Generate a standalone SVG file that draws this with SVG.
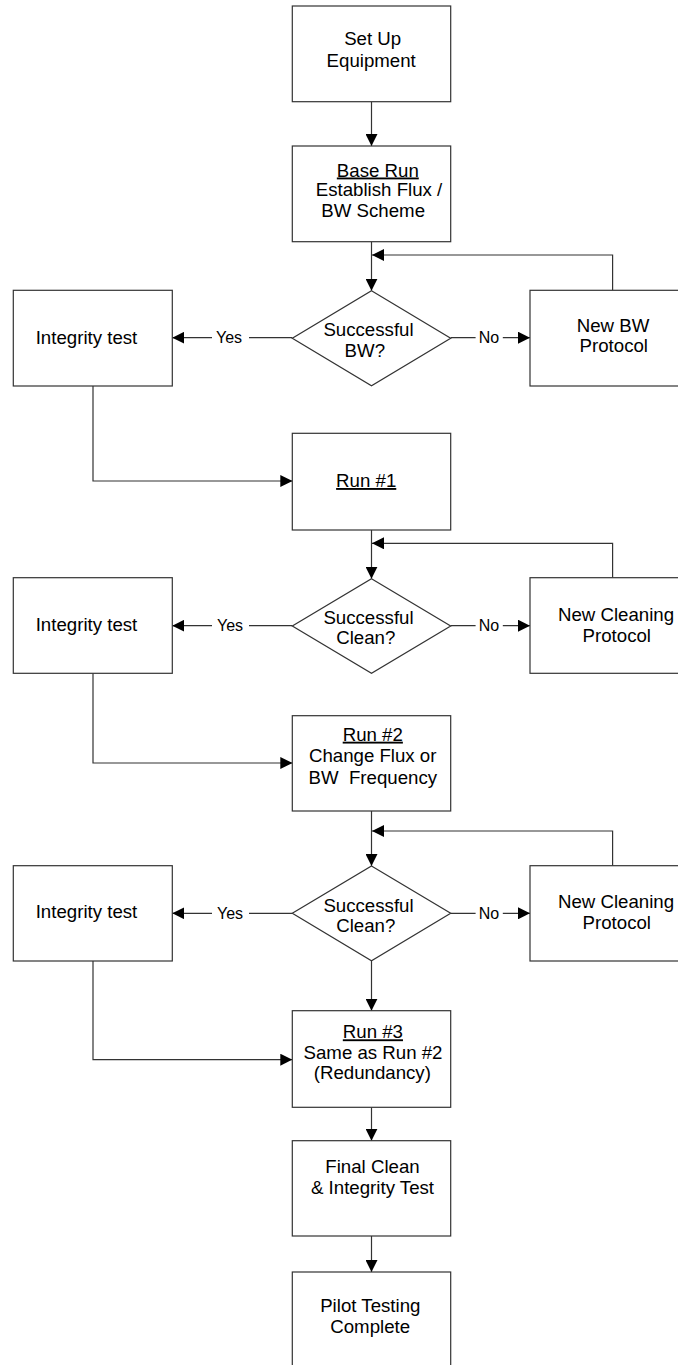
<svg xmlns="http://www.w3.org/2000/svg" width="678" height="1365" viewBox="0 0 678 1365">
<style>
.box{fill:#fff;stroke:#333;stroke-width:1.2}
.t{font-family:"Liberation Sans",Arial,sans-serif;font-size:18.67px;fill:#000;text-anchor:middle}
.u{text-decoration:underline}
.lbl{font-family:"Liberation Sans",Arial,sans-serif;font-size:16px;fill:#000;text-anchor:middle}
.lblbg{fill:#fff;stroke:none}
.c{fill:none;stroke:#333;stroke-width:1.2}
.ca{fill:none;stroke:#333;stroke-width:1.2;marker-end:url(#arr)}
</style>
<defs>
<marker id="arr" markerUnits="userSpaceOnUse" markerWidth="12" markerHeight="12" refX="12" refY="6" orient="auto">
<path d="M0,0 L12,6 L0,12 Z" fill="#000"/>
</marker>
</defs>
<rect width="678" height="1365" fill="#fff"/>

<g id="connectors">
<line class="ca" x1="371.5" y1="101.7" x2="371.5" y2="146"/>
<line class="ca" x1="371.5" y1="241.7" x2="371.5" y2="290.7"/>
<line class="ca" x1="292.3" y1="337.7" x2="172.3" y2="337.7"/>
<line class="ca" x1="450.7" y1="337.7" x2="530" y2="337.7"/>
<polyline class="ca" points="612.6,290.3 612.6,255 372,255"/>
<polyline class="ca" points="93,386 93,481 292.3,481"/>
<line class="ca" x1="371.5" y1="530" x2="371.5" y2="578.7"/>
<line class="ca" x1="292.3" y1="625.7" x2="172.3" y2="625.7"/>
<line class="ca" x1="450.7" y1="625.7" x2="530" y2="625.7"/>
<polyline class="ca" points="612.6,577.7 612.6,543.3 372,543.3"/>
<polyline class="ca" points="93,673.3 93,763 292.3,763"/>
<line class="ca" x1="371.5" y1="811" x2="371.5" y2="866"/>
<line class="ca" x1="292.3" y1="913.3" x2="172.3" y2="913.3"/>
<line class="ca" x1="450.7" y1="913.3" x2="530" y2="913.3"/>
<polyline class="ca" points="612.6,865.7 612.6,831 372,831"/>
<polyline class="ca" points="93,961 93,1059.7 292.3,1059.7"/>
<line class="ca" x1="371.5" y1="960.7" x2="371.5" y2="1010.7"/>
<line class="ca" x1="371.5" y1="1107.3" x2="371.5" y2="1140.7"/>
<line class="ca" x1="371.5" y1="1236" x2="371.5" y2="1272"/>
<g id="labels">
<rect class="lblbg" x="212" y="329" width="37" height="17"/>
<text class="lbl" x="229" y="342.7">Yes</text>
<rect class="lblbg" x="475.6" y="329" width="27.2" height="17"/>
<text class="lbl" x="489" y="342.7">No</text>
<rect class="lblbg" x="212" y="617" width="37" height="17"/>
<text class="lbl" x="230" y="630.5">Yes</text>
<rect class="lblbg" x="475.6" y="617" width="27.2" height="17"/>
<text class="lbl" x="489" y="630.5">No</text>
<rect class="lblbg" x="212" y="905" width="37" height="17"/>
<text class="lbl" x="230" y="918.5">Yes</text>
<rect class="lblbg" x="475.6" y="905" width="27.2" height="17"/>
<text class="lbl" x="489" y="918.5">No</text>
</g>
</g>

<g id="setup">
<rect class="box" x="292.3" y="6" width="158.4" height="95.7"/>
<text class="t" x="372.7" y="45">Set Up</text>
<text class="t" x="371.2" y="66.7">Equipment</text>
</g>
<g id="baserun">
<rect class="box" x="292.3" y="146" width="158.4" height="95.7"/>
<text class="t u" x="377.8" y="176.5">Base Run</text>
<text class="t" x="379" y="196.3">Establish Flux /</text>
<text class="t" x="373.2" y="216.7">BW Scheme</text>
</g>
<g id="dec1">
<polygon class="box" points="371.5,290.7 450.7,338.2 371.5,385.7 292.3,338.2"/>
<text class="t" x="368.5" y="336">Successful</text>
<text class="t" x="364.8" y="356.7">BW?</text>
</g>
<g id="integ1">
<rect class="box" x="13.3" y="290.3" width="159" height="95.7"/>
<text class="t" x="86.5" y="343.8">Integrity test</text>
</g>
<g id="newbw">
<rect class="box" x="530" y="290.3" width="165" height="95.7"/>
<text class="t" x="613" y="331.7">New BW</text>
<text class="t" x="613.8" y="352">Protocol</text>
</g>
<g id="run1">
<rect class="box" x="292.3" y="433.3" width="158.4" height="96.7"/>
<text class="t u" x="366.2" y="487">Run #1</text>
</g>
<g id="dec2">
<polygon class="box" points="371.5,578.7 450.7,626 371.5,673.3 292.3,626"/>
<text class="t" x="368.5" y="624">Successful</text>
<text class="t" x="365.8" y="644.3">Clean?</text>
</g>
<g id="integ2">
<rect class="box" x="13.3" y="577.7" width="159" height="95.6"/>
<text class="t" x="86.5" y="630.5">Integrity test</text>
</g>
<g id="newclean1">
<rect class="box" x="530" y="577.7" width="172" height="95.6"/>
<text class="t" x="616" y="621">New Cleaning</text>
<text class="t" x="616.8" y="641.7">Protocol</text>
</g>
<g id="run2">
<rect class="box" x="292.3" y="715.7" width="158.4" height="95.3"/>
<text class="t u" x="372.8" y="740.7">Run #2</text>
<text class="t" x="372.7" y="761.7">Change Flux or</text>
<text class="t" x="372.8" y="783.5" xml:space="preserve">BW  Frequency</text>
</g>
<g id="dec3">
<polygon class="box" points="371.5,866 450.7,913.3 371.5,960.7 292.3,913.3"/>
<text class="t" x="368.5" y="911.7">Successful</text>
<text class="t" x="365.8" y="932.3">Clean?</text>
</g>
<g id="integ3">
<rect class="box" x="13.3" y="865.7" width="159" height="95.3"/>
<text class="t" x="86.5" y="918">Integrity test</text>
</g>
<g id="newclean2">
<rect class="box" x="530" y="865.7" width="172" height="95.3"/>
<text class="t" x="616" y="908.3">New Cleaning</text>
<text class="t" x="616.8" y="929.3">Protocol</text>
</g>
<g id="run3">
<rect class="box" x="292.3" y="1010.7" width="158.4" height="96.6"/>
<text class="t u" x="372.9" y="1038.3">Run #3</text>
<text class="t" x="373" y="1059">Same as Run #2</text>
<text class="t" x="372.3" y="1079">(Redundancy)</text>
</g>
<g id="final">
<rect class="box" x="292.3" y="1140.7" width="158.4" height="95.3"/>
<text class="t" x="372.5" y="1173">Final Clean</text>
<text class="t" x="372.5" y="1194.3">&amp; Integrity Test</text>
</g>
<g id="pilot">
<rect class="box" x="292.3" y="1272" width="158.4" height="96"/>
<text class="t" x="370.3" y="1311.7">Pilot Testing</text>
<text class="t" x="370.2" y="1333">Complete</text>
</g>
</svg>
